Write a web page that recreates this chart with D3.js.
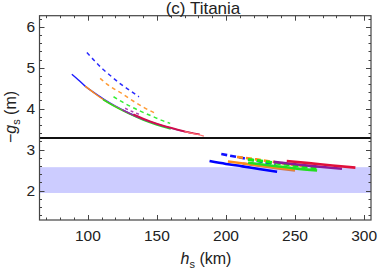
<!DOCTYPE html>
<html>
<head>
<meta charset="utf-8">
<script src="https://cdn.jsdelivr.net/npm/d3@7"></script>
<style>
  body { margin: 0; background: #fff; }
  svg text { font-family: "Liberation Sans", Arial, sans-serif; fill: #222; }
</style>
</head>
<body>
<div id="chart"></div>
<script>
// ─── data (h_s in km, -g_s in m) ───
var xTicks = [100, 150, 200, 250, 300];
var yTicks = [2, 3, 4, 5, 6];
var bandRange = [1.94, 2.57];
var thresholdG = 3.28;

// upper branch
var blueSolidUp = [[88.4, 4.84], [93.2, 4.70], [98, 4.55], [105, 4.38], [112, 4.22], [120, 4.06], [130, 3.89], [137, 3.79]];
var orangeSolidUp = [[98, 4.55], [105, 4.37], [111.3, 4.22], [120, 4.05], [130, 3.88], [140, 3.74], [148, 3.64]];
var greenSolidUp = [[111, 4.22], [120, 4.04], [130, 3.87], [140, 3.72], [150, 3.60], [160, 3.50]];
var purpleSolidUp = [[125, 3.97], [135, 3.81], [145, 3.68], [155, 3.57], [165, 3.48], [176, 3.40]];
var redSolidUp = [[133, 3.86], [145, 3.69], [155, 3.58], [165, 3.49], [175, 3.41], [181, 3.37]];
var pinkSolidUp = [[170, 3.44], [178, 3.38], [184, 3.33]];
var blueDashUp = [[99.3, 5.37], [106.5, 5.11], [111.3, 4.95], [116.2, 4.81], [124.6, 4.58], [131, 4.43], [137, 4.29]];
var orangeDashUp = [[108.9, 4.74], [113.8, 4.60], [118.6, 4.49], [124.6, 4.37], [129.4, 4.26], [135.5, 4.13], [141, 4.02], [148, 3.90]];
var greenDashUp = [[118.6, 4.29], [124.6, 4.17], [130.6, 4.06], [138, 3.94], [147.5, 3.80], [153, 3.72], [159.6, 3.64]];
var purpleDashUp = [[127, 4.01], [132, 3.93], [138, 3.85]];

// lower branch
var blueSolidLow = [[188.1, 2.72], [200, 2.65], [212, 2.59], [225, 2.52], [237, 2.46]];
var orangeSolidLow = [[201.4, 2.71], [215, 2.65], [230, 2.59], [250, 2.51]];
var brownSolidLow = [[212, 2.66], [225, 2.60], [238, 2.54], [250, 2.49]];
var greenSolidLow = [[216, 2.68], [235, 2.60], [250, 2.54], [266, 2.49]];
var purpleSolidLow = [[234.5, 2.70], [250, 2.64], [268, 2.58], [284, 2.53]];
var redSolidLow = [[244, 2.72], [260, 2.67], [277, 2.61], [293.7, 2.56]];
var blueDashLow = [[196.6, 2.89], [208, 2.82], [220, 2.74], [236, 2.64]];
var orangeDashLow = [[208, 2.82], [222, 2.76], [238, 2.68], [255, 2.60]];
var greenDashLow = [[216, 2.76], [232, 2.69], [250, 2.61], [266, 2.55]];

var series = [
  { data: blueSolidUp, color: '#1a1aff', w: 1.4 },
  { data: orangeSolidUp, color: '#ff8c1a', w: 1.4 },
  { data: greenSolidUp, color: '#22dd22', w: 1.4 },
  { data: purpleSolidUp, color: '#9a2a9a', w: 1.6 },
  { data: redSolidUp, color: '#d0104a', w: 1.8 },
  { data: pinkSolidUp, color: '#ff6f6f', w: 1.2 },
  { data: blueDashUp, color: '#2a2aff', w: 1.5, dash: '4,3.5' },
  { data: orangeDashUp, color: '#ff9a33', w: 1.5, dash: '4,3.5' },
  { data: greenDashUp, color: '#33ee33', w: 1.5, dash: '4,3.5' },
  { data: purpleDashUp, color: '#b040b0', w: 1.5, dash: '3,3' },
  { data: blueDashLow, color: '#1010ff', w: 2.6, dash: '6,3' },
  { data: orangeDashLow, color: '#ff8c1a', w: 2.6, dash: '6,3' },
  { data: blueSolidLow, color: '#0000ff', w: 2.6 },
  { data: brownSolidLow, color: '#cc7a55', w: 2.6 },
  { data: orangeSolidLow, color: '#ff8c1a', w: 2.4 },
  { data: greenSolidLow, color: '#22dd22', w: 2.6 },
  { data: greenDashLow, color: '#11ee11', w: 3, dash: '6,3' },
  { data: purpleSolidLow, color: '#8a1a9a', w: 2.6 },
  { data: redSolidLow, color: '#e0103a', w: 2.6 }
];

// ─── layout ───
var W = 379, H = 273;
var m = { left: 39.5, top: 15.7, right: 8, bottom: 53 };
var x = d3.scaleLinear().domain([65, 305]).range([m.left, W - m.right]);
var y = d3.scaleLinear().domain([1.28, 6.27]).range([H - m.bottom, m.top]);

var svg = d3.select('#chart').append('svg').attr('width', W).attr('height', H);

// shaded band
svg.append('rect')
  .attr('x', x.range()[0]).attr('width', x.range()[1] - x.range()[0])
  .attr('y', y(bandRange[1])).attr('height', y(bandRange[0]) - y(bandRange[1]))
  .attr('fill', '#ccccff');

// curves
var line = d3.line().x(function(d) { return x(d[0]); }).y(function(d) { return y(d[1]); }).curve(d3.curveMonotoneX);
series.forEach(function(s) {
  svg.append('path').attr('d', line(s.data)).attr('fill', 'none')
    .attr('stroke', s.color).attr('stroke-width', s.w)
    .attr('stroke-dasharray', s.dash || null);
});

// threshold line
svg.append('line')
  .attr('x1', x.range()[0]).attr('x2', x.range()[1])
  .attr('y1', y(thresholdG)).attr('y2', y(thresholdG))
  .attr('stroke', '#111').attr('stroke-width', 2);

// frame + ticks on all sides (inward)
var frame = '#444';
var xMinor = d3.range(70, 305, 10);
var yMinor = d3.range(14, 63, 2).map(function(v) { return v / 10; });
function xTicksAt(vals, len) {
  vals.forEach(function(v) {
    var px = Math.round(x(v)) + 0.5;
    svg.append('line').attr('x1', px).attr('x2', px).attr('y1', y.range()[0]).attr('y2', y.range()[0] - len).attr('stroke', frame);
    svg.append('line').attr('x1', px).attr('x2', px).attr('y1', y.range()[1]).attr('y2', y.range()[1] + len).attr('stroke', frame);
  });
}
function yTicksAt(vals, len) {
  vals.forEach(function(v) {
    var py = Math.round(y(v)) + 0.5;
    svg.append('line').attr('y1', py).attr('y2', py).attr('x1', x.range()[0]).attr('x2', x.range()[0] + len).attr('stroke', frame);
    svg.append('line').attr('y1', py).attr('y2', py).attr('x1', x.range()[1]).attr('x2', x.range()[1] - len).attr('stroke', frame);
  });
}
xTicksAt(xMinor.filter(function(v) { return v % 50 !== 0; }), 2.5);
xTicksAt(xTicks, 5);
yTicksAt(yMinor.filter(function(v) { return Math.abs(v - Math.round(v)) > 0.01; }), 2.5);
yTicksAt(yTicks, 5);

svg.append('rect')
  .attr('x', x.range()[0]).attr('y', y.range()[1])
  .attr('width', x.range()[1] - x.range()[0]).attr('height', y.range()[0] - y.range()[1])
  .attr('fill', 'none').attr('stroke', frame).attr('stroke-width', 1.2);

// tick labels
xTicks.forEach(function(v) {
  svg.append('text').attr('x', x(v)).attr('y', 240.5).attr('text-anchor', 'middle')
    .attr('font-size', '15.5px').text(v);
});
yTicks.forEach(function(v) {
  svg.append('text').attr('x', 35).attr('y', y(v) + 5.5).attr('text-anchor', 'end')
    .attr('font-size', '15.5px').text(v);
});

// axis labels
var xl = svg.append('text').attr('x', 206).attr('y', 264).attr('text-anchor', 'middle').attr('font-size', '16px');
xl.append('tspan').attr('font-style', 'italic').text('h');
xl.append('tspan').attr('font-size', '11px').attr('dy', 4).text('s');
xl.append('tspan').attr('dy', -4).text(' (km)');

var yl = svg.append('text').attr('transform', 'translate(16,' + 117 + ') rotate(-90)')
  .attr('text-anchor', 'middle').attr('font-size', '16px');
yl.append('tspan').text('\u2212');
yl.append('tspan').attr('font-style', 'italic').text('g');
yl.append('tspan').attr('font-size', '11px').attr('dy', 4).text('s');
yl.append('tspan').attr('dy', -4).text(' (m)');

// title
svg.append('text').attr('x', 203).attr('y', 14).attr('text-anchor', 'middle')
  .attr('font-size', '17px').text('(c) Titania');
</script>
</body>
</html>
